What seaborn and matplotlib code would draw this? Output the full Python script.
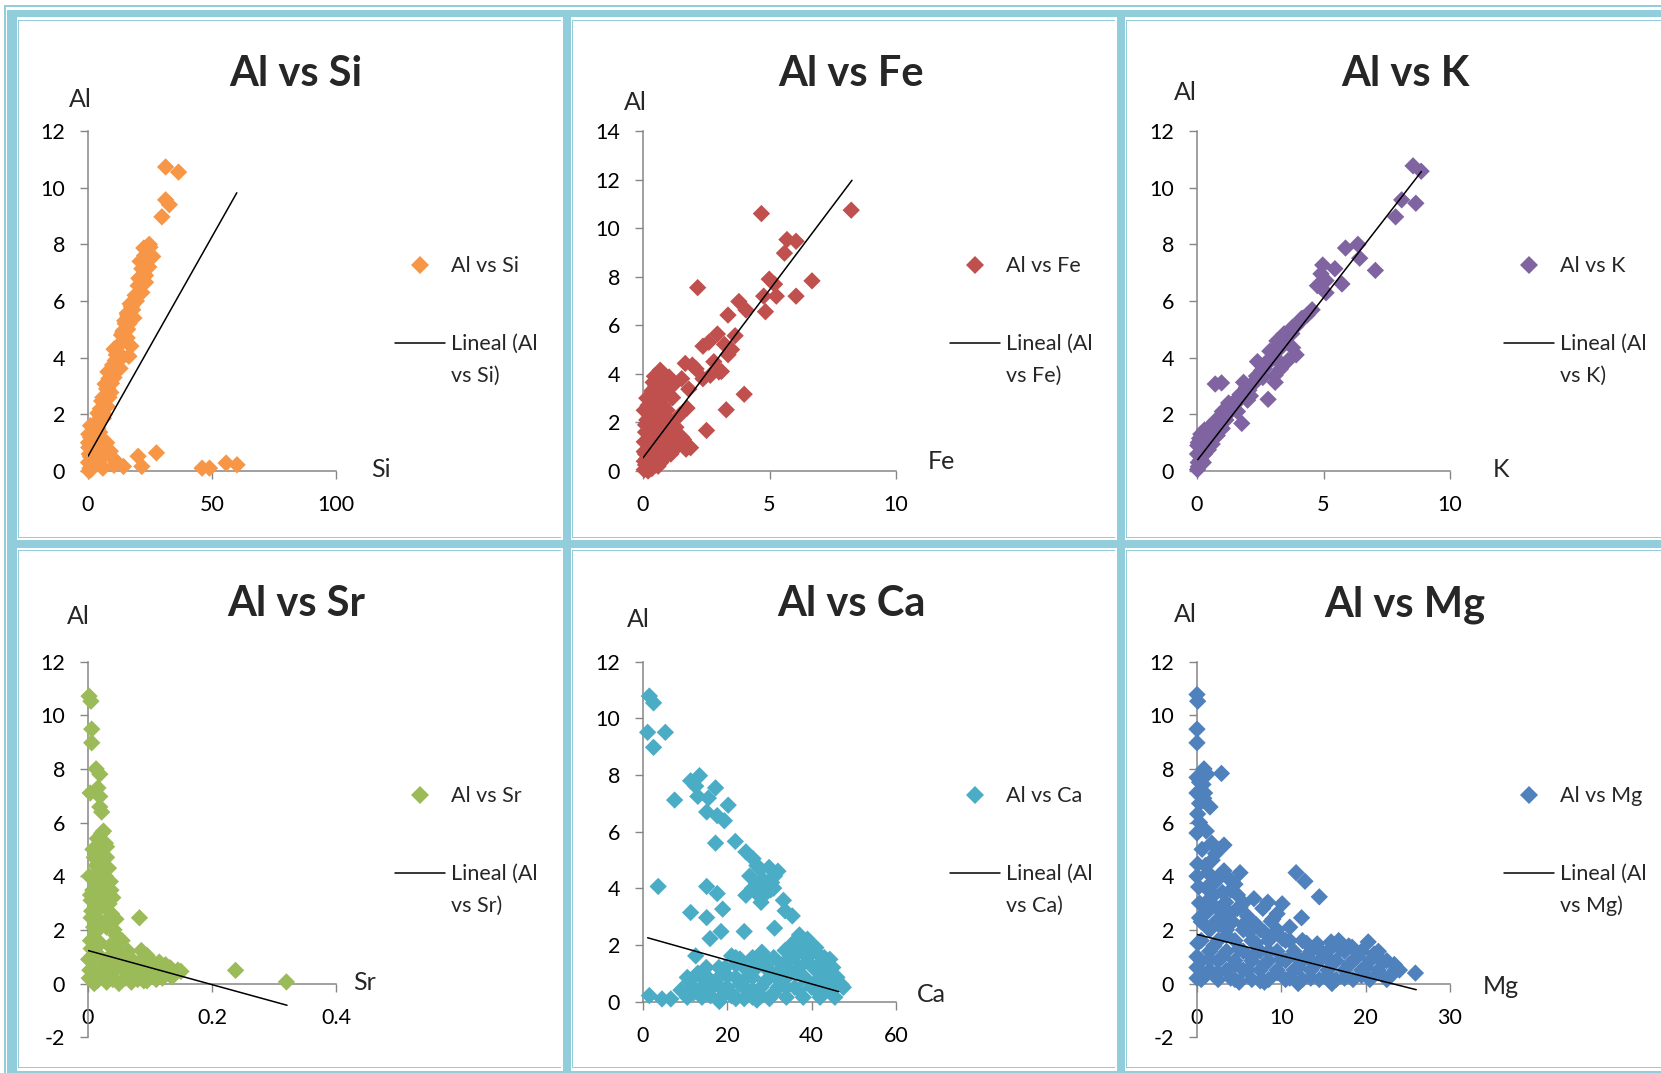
import numpy as np
import pandas as pd
import seaborn as sns
import matplotlib.pyplot as plt
from matplotlib.patches import Rectangle
from matplotlib.lines import Line2D

# -----------------------------------------------------
# Data: (element, Al) pairs
# -----------------------------------------------------
si_pts = [(31.3, 10.73), (36.5, 10.55), (31.3, 9.57), (32.8, 9.4), (29.8, 8.97), (24.7, 8.0), (22.5, 7.87),
          (26.1, 7.57), (23.9, 7.39), (21.7, 7.14), (23.2, 6.9), (20.2, 6.54), (23.2, 6.66), (21.7, 6.3),
          (18.0, 5.69), (15.8, 5.57), (16.5, 5.2), (14.3, 4.96), (15.8, 4.7), (12.9, 4.47), (17.3, 4.41),
          (11.4, 4.1), (16.5, 4.05), (9.9, 3.74), (12.9, 3.62), (8.4, 3.26), (6.9, 3.07), (9.2, 2.77),
          (5.5, 2.47), (7.7, 2.28), (4.0, 2.04), (6.2, 1.86), (2.5, 1.55), (4.7, 1.37), (1.0, 1.19),
          (3.2, 1.0), (0.3, 0.83), (6.9, 0.95), (8.4, 0.58), (11.4, 0.34), (14.3, 0.16), (20.2, 0.52),
          (21.7, 0.16), (27.6, 0.64), (46.0, 0.1), (49.0, 0.1), (55.7, 0.28), (60.1, 0.22),
          (13.5, 4.8), (14.8, 5.3), (17.0, 5.9), (11.0, 3.9), (10.5, 4.3), (8.0, 3.5), (7.5, 2.9),
          (6.0, 2.6), (5.0, 2.2), (3.5, 1.7), (2.0, 1.3), (1.5, 0.9), (0.5, 0.6), (0.2, 0.3), (0.8, 0.1),
          (1.5, 0.4), (2.5, 0.2), (3.5, 0.6), (4.5, 0.3), (5.5, 0.8), (2.0, 0.7), (0.4, 0.0), (1.2, 0.05),
          (3.0, 0.4), (24.0, 7.7), (25.0, 7.9), (22.0, 6.8), (19.5, 6.0), (18.5, 5.4), (16.0, 5.0),
          (9.5, 3.1), (7.0, 2.5), (4.5, 1.8),
          (1.0, 0.5), (2.0, 0.9), (3.0, 1.2), (4.0, 1.5), (5.0, 1.9), (6.0, 2.2), (7.0, 2.6), (8.0, 2.9),
          (9.0, 3.2), (10.0, 3.5), (11.0, 3.8), (12.0, 4.2), (13.0, 4.5), (14.0, 4.9), (15.0, 5.2),
          (16.0, 5.5), (17.5, 5.8), (12.5, 3.9), (10.5, 3.3), (8.5, 2.6), (6.5, 2.0), (4.5, 1.2),
          (3.0, 0.7), (1.5, 0.2), (5.5, 0.5), (7.5, 1.0), (9.0, 0.7), (10.5, 0.2), (6.0, 0.1), (0.3, 1.3),
          (1.0, 1.6), (0.2, 1.0), (19.0, 6.2), (20.5, 6.8), (21.0, 7.4), (24.5, 7.2), (22.8, 7.6)]

fe_pts = [(4.68, 10.6), (8.23, 10.74), (5.69, 9.53), (6.05, 9.46), (5.59, 8.97), (4.99, 7.9), (5.2, 7.69),
          (6.68, 7.83), (2.16, 7.55), (4.77, 7.2), (5.27, 7.2), (6.05, 7.2), (3.79, 6.98), (4.07, 6.63),
          (4.84, 6.56), (3.36, 6.42), (2.94, 5.64), (3.64, 5.57), (2.37, 5.14), (3.22, 5.21), (3.36, 4.79),
          (1.67, 4.43), (1.95, 4.36), (0.68, 4.15), (1.03, 3.87), (0.4, 3.65), (1.53, 3.8), (2.66, 3.94),
          (3.0, 4.08), (2.37, 3.8), (1.81, 3.37), (1.17, 3.02), (0.25, 2.95), (4.0, 3.16), (3.29, 2.52),
          (1.74, 2.59), (0.82, 2.24), (0.32, 2.45), (2.51, 1.67), (1.53, 1.39), (1.88, 0.96), (0.96, 1.1),
          (1.1, 1.95), (0.82, 0.96),
          (0.05, 0.05), (0.1, 0.25), (0.15, 0.5), (0.05, 0.8), (0.25, 0.3), (0.3, 0.7), (0.2, 1.1),
          (0.4, 1.4), (0.45, 0.9), (0.55, 0.5), (0.1, 1.6), (0.3, 1.8), (0.5, 2.0), (0.65, 1.6), (0.75, 1.2),
          (0.4, 2.3), (0.55, 2.7), (0.9, 1.7), (0.15, 2.1), (0.65, 3.3), (0.5, 3.5), (0.6, 0.2), (0.35, 0.1),
          (1.2, 1.3), (1.3, 1.8), (1.45, 2.3), (0.85, 3.1), (1.25, 3.6), (0.55, 3.9), (0.75, 4.0), (2.1, 4.2),
          (2.8, 4.5), (2.6, 5.3), (3.5, 5.0), (3.1, 4.1), (0.2, 0.0), (0.9, 0.6), (1.1, 0.7), (0.7, 0.35),
          (0.05, 0.4), (0.1, 0.7), (0.2, 0.9), (0.3, 0.5), (0.35, 1.2), (0.05, 1.2), (0.25, 1.5), (0.45, 1.7),
          (0.6, 1.3), (0.7, 0.9), (0.8, 0.5), (0.5, 0.25), (0.1, 1.9), (0.25, 2.2), (0.35, 2.5), (0.2, 2.7),
          (0.45, 3.0), (0.35, 3.3), (0.6, 2.4), (0.75, 2.0), (0.95, 2.5), (1.05, 2.1), (0.8, 2.7), (0.6, 3.7),
          (0.45, 3.9), (0.9, 3.4), (1.15, 1.6), (1.0, 1.0), (0.15, 3.0), (0.05, 2.5), (1.35, 1.0),
          (1.6, 1.3), (1.7, 0.9)]

k_pts = [(8.54, 10.77), (8.86, 10.58), (8.09, 9.57), (8.65, 9.45), (7.85, 8.97), (5.87, 7.87), (6.36, 8.0),
         (6.43, 7.51), (7.05, 7.08), (4.97, 7.27), (5.45, 7.14), (4.9, 6.96), (5.1, 6.72), (4.76, 6.54),
         (5.73, 6.6), (5.1, 6.29), (4.55, 5.69), (4.13, 5.38), (3.78, 5.08), (3.44, 4.84), (3.16, 4.59),
         (3.78, 4.35), (3.92, 4.1), (2.88, 4.23), (2.39, 3.86), (3.37, 3.74), (3.09, 3.38), (0.72, 3.07),
         (0.97, 3.11), (3.09, 3.13), (1.84, 3.13), (2.81, 2.53), (2.11, 2.65), (1.42, 2.4), (1.77, 1.68),
         (1.14, 1.8), (0.72, 1.43), (0.45, 1.07), (0.17, 0.83),
         (0.02, 0.05), (0.05, 0.3), (0.1, 0.55), (0.03, 0.9), (0.2, 1.05), (0.3, 0.6), (0.35, 1.25),
         (0.55, 1.35), (0.6, 1.6), (0.85, 1.7), (0.95, 1.95), (1.25, 2.05), (1.3, 2.3), (1.55, 2.45),
         (1.7, 2.7), (1.95, 2.95), (2.2, 3.05), (2.35, 3.35), (2.55, 3.55), (2.7, 3.8), (2.95, 3.95),
         (3.25, 4.3), (3.4, 4.5), (3.6, 4.75), (3.9, 5.1), (4.35, 5.5), (0.1, 1.15), (0.25, 0.3),
         (0.45, 0.75), (0.6, 0.95), (0.8, 1.25), (1.0, 1.5), (1.6, 2.1), (2.0, 2.5), (2.6, 3.3), (3.3, 3.6),
         (3.6, 3.9),
         (0.05, 0.15), (0.15, 0.4), (0.25, 0.65), (0.35, 0.9), (0.5, 1.1), (0.65, 1.3), (0.75, 1.5),
         (0.9, 1.65), (1.05, 1.85), (1.2, 2.0), (1.35, 2.2), (1.5, 2.35), (1.65, 2.55), (1.8, 2.75),
         (2.05, 2.85), (2.25, 3.15), (2.45, 3.4), (2.65, 3.6), (2.85, 3.85), (3.05, 4.05), (3.2, 4.4),
         (3.5, 4.6), (3.75, 4.85), (4.0, 5.2), (4.2, 5.4), (0.02, 0.6), (0.05, 1.0), (0.3, 1.45),
         (0.15, 1.3), (0.5, 1.55), (0.7, 1.75), (1.0, 2.1), (1.25, 2.4)]

sr_pts = [(0.0017, 10.71), (0.0047, 10.52), (0.006, 9.48), (0.006, 8.97), (0.013, 8.0), (0.019, 7.8),
          (0.0035, 7.1), (0.016, 7.29), (0.019, 6.97), (0.019, 6.58), (0.022, 6.39), (0.025, 5.68),
          (0.028, 5.23), (0.022, 4.9), (0.025, 4.45), (0.002, 4.0), (0.028, 4.0), (0.0076, 3.48),
          (0.037, 3.48), (0.005, 3.1), (0.034, 2.97), (0.005, 2.45), (0.083, 2.45), (0.028, 2.32),
          (0.045, 1.8), (0.086, 1.23), (0.104, 0.77), (0.115, 0.7), (0.133, 0.58), (0.15, 0.45),
          (0.238, 0.49), (0.32, 0.06),
          (0.015, 5.4), (0.03, 4.7), (0.018, 4.2), (0.012, 3.8), (0.024, 3.2), (0.015, 2.7), (0.03, 2.1),
          (0.012, 1.9), (0.02, 1.5), (0.005, 1.3), (0.035, 1.4), (0.05, 1.15), (0.001, 0.9), (0.01, 0.6),
          (0.02, 1.0), (0.03, 0.7), (0.04, 0.4), (0.045, 0.9), (0.055, 0.6), (0.06, 0.2), (0.065, 1.0),
          (0.07, 0.45), (0.075, 0.8), (0.08, 0.15), (0.09, 0.6), (0.095, 1.05), (0.1, 0.35), (0.11, 0.15),
          (0.12, 0.4), (0.125, 0.7), (0.14, 0.35), (0.002, 0.2), (0.015, 0.1), (0.03, 0.05), (0.05, 0.0),
          (0.07, 0.05), (0.09, 0.1), (0.045, 2.4), (0.055, 1.6), (0.008, 5.0),
          (0.003, 0.5), (0.006, 1.0), (0.004, 1.6), (0.009, 2.1), (0.006, 2.7), (0.004, 3.3), (0.01, 3.5),
          (0.013, 4.4), (0.01, 4.7), (0.022, 5.6), (0.03, 5.1), (0.033, 4.3), (0.036, 3.8), (0.04, 3.2),
          (0.038, 2.6), (0.042, 2.0), (0.048, 1.5), (0.028, 2.9), (0.025, 3.7), (0.018, 3.0), (0.02, 2.3),
          (0.014, 1.4), (0.024, 0.4), (0.035, 1.0), (0.04, 0.15), (0.06, 0.5), (0.065, 1.2), (0.075, 0.55),
          (0.085, 0.85), (0.1, 0.9), (0.105, 0.55), (0.115, 0.8), (0.12, 0.2), (0.13, 0.6), (0.135, 0.25),
          (0.145, 0.5), (0.08, 0.4), (0.095, 0.1), (0.055, 0.9), (0.01, 0.0)]

ca_pts = [(1.5, 10.78), (2.5, 10.54), (1.1, 9.5), (5.3, 9.5), (2.5, 8.97), (13.4, 7.97), (11.3, 7.79),
          (12.5, 7.6), (17.2, 7.54), (7.5, 7.11), (13.0, 7.24), (15.5, 7.18), (20.2, 6.93), (15.1, 6.69),
          (17.6, 6.56), (19.3, 6.38), (17.2, 5.59), (21.9, 5.65), (24.4, 5.28), (26.1, 5.04), (27.8, 4.67),
          (29.9, 4.73), (31.2, 4.43), (25.3, 4.43), (26.9, 4.18), (29.1, 4.06), (30.3, 3.94), (3.6, 4.06),
          (15.1, 4.06), (17.6, 3.81), (24.4, 3.75), (27.8, 3.69), (33.3, 3.57), (18.9, 3.26), (33.7, 3.2),
          (35.4, 3.02), (11.3, 3.14), (15.1, 2.96), (31.2, 2.59), (18.5, 2.47), (24.0, 2.47), (15.9, 2.22),
          (37.1, 2.35), (33.7, 1.8), (12.5, 1.61), (28.2, 1.74), (39.7, 1.8), (44.3, 1.49), (21.0, 1.61),
          (1.5, 0.21), (4.5, 0.09), (6.6, 0.09), (10.4, 0.21), (18.1, 0.0),
          (9, 0.4), (11, 0.7), (12, 0.3), (13, 1.0), (14, 0.5), (15, 0.9), (16, 0.2), (17, 0.6), (18, 1.2),
          (19, 0.4), (20, 0.9), (21, 0.2), (22, 1.3), (23, 0.6), (24, 0.1), (25, 0.9), (26, 0.4), (27, 1.2),
          (28, 0.2), (29, 0.7), (30, 1.1), (31, 0.3), (32, 0.8), (33, 1.3), (34, 0.5), (35, 1.0), (36, 1.6),
          (37, 0.4), (38, 0.9), (39, 1.4), (40, 0.6), (41, 1.1), (42, 1.6), (43, 0.5), (44, 0.9), (45, 1.2),
          (46, 0.7), (47, 0.6), (36, 2.0), (38, 2.1), (40, 1.9), (42, 1.2), (35, 1.5), (41, 0.4), (30, 0.1),
          (26, 1.5), (23, 1.5), (20, 0.4), (29, 1.5), (44, 0.4), (38, 1.7), (22, 0.1), (27, 0.05),
          (10.5, 0.15), (14, 0.15), (18.5, 0.15), (22, 0.15), (26, 0.15), (30, 0.15), (34, 0.15),
          (38, 0.15), (42, 0.15), (45.5, 0.15),
          (12, 0.5), (16, 0.5), (20, 0.5), (24, 0.5), (28, 0.5), (32, 0.5), (36, 0.5), (40, 0.5),
          (44, 0.5), (47.5, 0.5),
          (10.5, 0.85), (14, 0.85), (18, 0.85), (22, 0.85), (26, 0.85), (30, 0.85), (34, 0.85),
          (38, 0.85), (42, 0.85), (46, 0.85),
          (15, 1.2), (19.5, 1.2), (24, 1.2), (29, 1.2), (33, 1.2), (37, 1.2), (41, 1.2), (44.5, 1.2),
          (22, 1.55), (26, 1.55), (31, 1.55), (35, 1.55), (39, 1.55), (43, 1.55),
          (34.5, 1.9), (37.5, 1.9), (41, 1.9), (36.5, 2.2), (39, 2.2),
          (28.5, 4.3), (30.5, 4.2), (26, 4.0), (28, 3.5), (31, 4.0), (29, 3.8), (32, 4.6), (27, 4.8)]

mg_pts = [(0, 10.77), (0.08, 10.52), (0, 9.48), (0, 8.97), (0.83, 8.0), (2.9, 7.83), (0, 7.68), (0.7, 7.42),
          (0, 7.1), (0.9, 7.1), (0.3, 6.71), (1.54, 6.58), (0.08, 6.32), (0, 5.61), (1.1, 5.68), (3.2, 5.16),
          (1.75, 5.23), (2.2, 4.84), (0.08, 4.45), (0, 4.0), (5.1, 4.13), (11.75, 4.13), (12.8, 3.81),
          (1.3, 4.13), (2.6, 4.0), (1.54, 3.42), (4.0, 3.48), (6.75, 3.16), (8.4, 3.03), (10.1, 2.97),
          (14.5, 3.23), (3.4, 3.03), (5.1, 2.84), (0.3, 2.45), (12.4, 2.45), (8.8, 2.32), (2.6, 2.19),
          (6.3, 1.94), (10.1, 1.68), (14.25, 1.48), (15.9, 1.55), (18.4, 1.35), (20.3, 1.55), (25.9, 0.39),
          (23.4, 0.71),
          (0, 0.2), (0, 0.6), (0, 1.0), (0.1, 1.5), (1, 0.3), (1.5, 0.9), (2, 1.4), (2.5, 0.4), (3, 1.0),
          (3.5, 1.8), (4, 0.2), (4.5, 0.7), (5, 1.3), (5.5, 2.2), (6, 0.5), (6.5, 1.0), (7, 1.5), (7.5, 0.1),
          (8, 0.7), (8.5, 1.2), (9, 1.8), (9.5, 0.4), (10, 0.9), (11, 0.2), (11.5, 1.1), (12, 0.6), (13, 1.0),
          (13.5, 0.2), (14, 0.7), (15, 1.1), (15.5, 0.3), (16, 0.8), (17, 1.3), (17.5, 0.2), (18, 0.7),
          (19, 1.0), (19.5, 0.3), (20, 0.6), (21, 1.1), (21.5, 0.4), (22, 0.8), (23, 0.3), (24, 0.5),
          (4, 2.6), (2, 2.9), (6, 2.5), (9, 2.4), (3, 2.4), (16, 0.0), (12, 0.0), (8, 0.05), (5, 0.05),
          (0.5, 0.15), (2.5, 0.15), (4.5, 0.15), (6.5, 0.15), (8.5, 0.15), (10.5, 0.15), (12.5, 0.15),
          (14.5, 0.15), (16.5, 0.15), (18.5, 0.15), (20.5, 0.15), (22.5, 0.15),
          (1.5, 0.5), (3.5, 0.5), (5.5, 0.5), (7.5, 0.5), (9.5, 0.5), (11.5, 0.5), (13.5, 0.5),
          (15.5, 0.5), (17.5, 0.5), (19.5, 0.5), (21.5, 0.5), (23.5, 0.5),
          (0.5, 0.85), (2.5, 0.85), (4.5, 0.85), (6.5, 0.85), (8.5, 0.85), (10.5, 0.85), (12.5, 0.85),
          (14.5, 0.85), (16.5, 0.85), (18.5, 0.85), (20.5, 0.85), (22.5, 0.85),
          (1.5, 1.2), (3.5, 1.2), (5.5, 1.2), (7.5, 1.2), (9.5, 1.2), (11.5, 1.2), (13.5, 1.2),
          (15.5, 1.2), (17.5, 1.2), (19.5, 1.2), (21.5, 1.2),
          (0.5, 1.6), (2.5, 1.6), (4.5, 1.6), (6.5, 1.6), (8.5, 1.6), (10.5, 1.6), (12.5, 1.6),
          (1.5, 2.0), (3.5, 2.0), (5.5, 2.0), (7.5, 2.0), (9.5, 2.0),
          (0.5, 2.3), (2.2, 2.3), (4.2, 2.3),
          (0.3, 3.0), (1.2, 3.6), (2.2, 3.8), (3.0, 3.4), (4.5, 3.7), (0.2, 3.6), (1.8, 4.6), (2.5, 5.0),
          (0.6, 5.0), (0.3, 6.0), (0.8, 6.9), (0.3, 7.5), (1.2, 7.8),
          (1.0, 3.0), (2.0, 3.3), (3.8, 3.9), (4.8, 3.3), (3.2, 4.2), (1.0, 4.4), (5.5, 3.0), (6.0, 2.0),
          (7.0, 2.2), (8.0, 1.9), (9.5, 2.6), (11.0, 1.6), (11.0, 2.1), (4.8, 2.8), (2.8, 2.7), (1.0, 2.6),
          (7.8, 2.8), (13.0, 1.5), (16.8, 1.6), (18.0, 1.4)]

# Excel linear trendlines (start/end)
si_trend = ([0, 60], [0.52, 9.82])
fe_trend = ([0, 8.26], [0.54, 11.97])
k_trend = ([0.03, 8.87], [0.4, 10.57])
sr_trend = ([0, 0.321], [1.23, -0.81])
ca_trend = ([1.1, 46.4], [2.25, 0.35])
mg_trend = ([0, 26.0], [1.83, -0.23])

elements = ['Si', 'Fe', 'K', 'Sr', 'Ca', 'Mg']
colors = ['#F79646', '#C0504D', '#8064A2', '#9BBB59', '#4BACC6', '#4F81BD']
x_ticks = [[0, 50, 100], [0, 5, 10], [0, 5, 10], [0, 0.2, 0.4], [0, 20, 40, 60], [0, 10, 20, 30]]
y_ticks = [list(range(0, 13, 2)), list(range(0, 15, 2)), list(range(0, 13, 2)),
           list(range(-2, 13, 2)), list(range(0, 13, 2)), list(range(-2, 13, 2))]

points = [si_pts, fe_pts, k_pts, sr_pts, ca_pts, mg_pts]
trends = [si_trend, fe_trend, k_trend, sr_trend, ca_trend, mg_trend]

# -----------------------------------------------------
# Figure + Excel-like frame
# -----------------------------------------------------
sns.set_theme(style='ticks')
plt.rcParams['font.family'] = ['Lato', 'DejaVu Sans']

W, H = 1661, 1073
fig = plt.figure(figsize=(W / 100, H / 100), dpi=100)
fig.patch.set_facecolor('white')


def fx(px):
    return px / W


def fy(py):
    return 1 - py / H


frame = '#92CDDC'
bg = fig.add_axes([0, 0, 1, 1])
bg.set_xlim(0, W)
bg.set_ylim(H, 0)
bg.axis('off')

# thick bands
for x0, x1 in [(7.3, 16.7), (562.7, 571), (1116.7, 1125)]:
    bg.add_patch(Rectangle((x0, 10), x1 - x0, H, color=frame, lw=0))
for y0, y1 in [(10, 17.3), (540, 548.3), (1071, 1080)]:
    bg.add_patch(Rectangle((7.3, y0), W, y1 - y0, color=frame, lw=0))
# outer thin lines
bg.add_patch(Rectangle((4, 5), 1.6, H, color=frame, lw=0))
bg.add_patch(Rectangle((4, 5), W, 1.5, color=frame, lw=0))
# panel thin lines
col_left = [17.7, 572, 1126]
col_right = [560.7, 1114.7, W + 5]
row_top = [19.5, 549.7]
row_bot = [537, 1066.8]
for r in range(2):
    for c in range(3):
        bg.add_patch(Rectangle((col_left[c], row_top[r]), 1.4, row_bot[r] - row_top[r] + 1.4,
                               color=frame, lw=0))
        for yy in (row_top[r], row_bot[r]):
            bg.add_patch(Rectangle((col_left[c], yy), col_right[c] - col_left[c], 1.4,
                                   color=frame, lw=0))

# -----------------------------------------------------
# Panels
# -----------------------------------------------------
col_off = [0, 555, 1109]
row_off = [0, 530.5]
ax_width = [248, 253, 253]
axis_gray = '#868686'
al_pos = [(69, 106.7), (623.6, 109.5), (1174, 100.5), (67, 623.5), (627, 627), (1174, 621.8)]
name_pos = [(371, 477), (928, 469), (1493, 477), (352.7, 990.5), (917, 1001.6), (1483, 994)]

for i, el in enumerate(elements):
    r, c = divmod(i, 3)
    ox, oy = col_off[c], row_off[r]
    yt = y_ticks[i]
    ymin, ymax = yt[0], yt[-1]
    xl = 88 + ox
    xr = xl + ax_width[c]
    top = 131 + oy
    bottom = top + (375.7 if ymin < 0 else 340)
    ax = fig.add_axes([fx(xl), fy(bottom), (xr - xl) / W, (bottom - top) / H])
    ax.patch.set_alpha(0)

    df = pd.DataFrame(points[i], columns=[el, 'Al'])
    sns.scatterplot(data=df, x=el, y='Al', ax=ax, marker='D', s=78, color=colors[i],
                    edgecolor='none', linewidth=0, clip_on=False, zorder=3, legend=False)
    sns.lineplot(x=trends[i][0], y=trends[i][1], ax=ax, color='black', lw=1.1, zorder=4)

    ax.set_xlim(x_ticks[i][0], x_ticks[i][-1])
    ax.set_ylim(ymin, ymax)
    ax.set_xticks(x_ticks[i])
    ax.set_xticklabels([f'{v:g}' for v in x_ticks[i]])
    ax.set_yticks(yt)
    ax.set_yticklabels([f'{v:g}' for v in yt])
    ax.set_xlabel('')
    ax.set_ylabel('')
    for s in ['top', 'right']:
        ax.spines[s].set_visible(False)
    for s in ['left', 'bottom']:
        ax.spines[s].set_color(axis_gray)
        ax.spines[s].set_linewidth(1.1)
    ax.spines['bottom'].set_position(('data', 0))
    ax.tick_params(direction='out', length=5.5, width=1.0, color=axis_gray,
                   labelsize=15.5, labelcolor='black')
    ax.tick_params(axis='y', pad=11)
    ax.tick_params(axis='x', pad=12)

    # title and axis names
    fig.text(fx(296 + ox), fy(86 + oy), f'Al vs {el}', ha='center', va='baseline',
             fontsize=30, fontweight='bold')
    fig.text(fx(al_pos[i][0]), fy(al_pos[i][1]), 'Al', ha='left', va='baseline', fontsize=18)
    fig.text(fx(name_pos[i][0]), fy(name_pos[i][1]), el, ha='left', va='baseline', fontsize=18)

    # legend (Excel style: marker, then trendline entry on two lines)
    fig.add_artist(Line2D([fx(420 + ox)], [fy(264.5 + oy)], marker='D', ms=8.8, lw=0,
                          color=colors[i], markeredgewidth=0, transform=fig.transFigure))
    fig.add_artist(Line2D([fx(394.5 + ox), fx(444.5 + ox)], [fy(342.6 + oy)] * 2,
                          color='black', lw=1.1, transform=fig.transFigure))
    fig.text(fx(451 + ox), fy(272 + oy), f'Al vs {el}', ha='left', va='baseline', fontsize=15.5)
    fig.text(fx(451 + ox), fy(349.5 + oy), 'Lineal (Al', ha='left', va='baseline', fontsize=15.5)
    fig.text(fx(451 + ox), fy(381.5 + oy), f'vs {el})', ha='left', va='baseline', fontsize=15.5)

plt.savefig('out.png', dpi=100)
